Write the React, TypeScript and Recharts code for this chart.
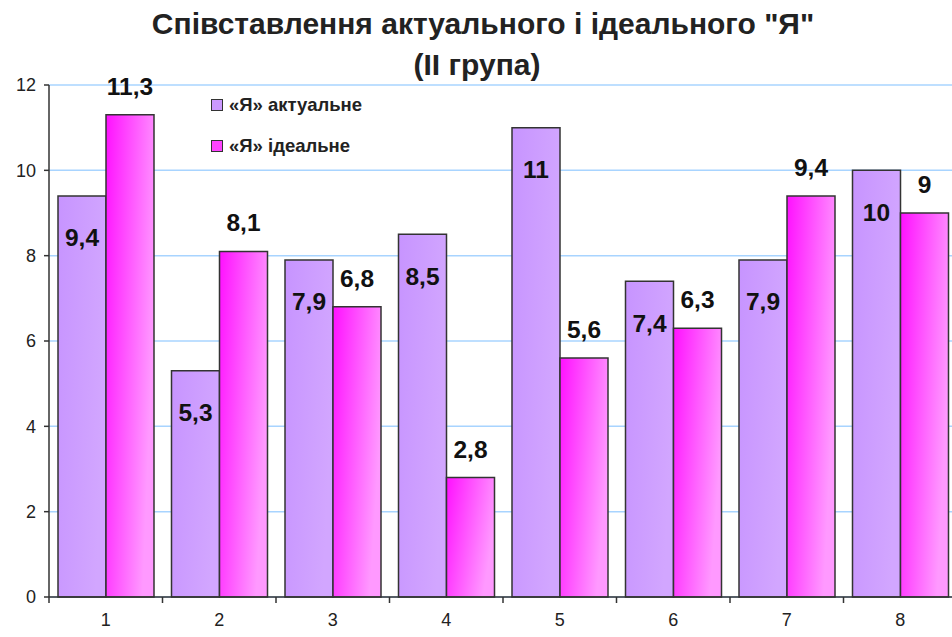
import { BarChart, Bar, XAxis, YAxis, CartesianGrid, LabelList } from 'recharts'

const groups = ['1', '2', '3', '4', '5', '6', '7', '8']
const actualSelf = [9.4, 5.3, 7.9, 8.5, 11, 7.4, 7.9, 10]
const idealSelf = [11.3, 8.1, 6.8, 2.8, 5.6, 6.3, 9.4, 9]
const yTicks = [0, 2, 4, 6, 8, 10, 12]

const seriesNames = { actual: '«Я» актуальне', ideal: '«Я» ідеальне' }

const data = groups.map((g, i) => ({
  group:  g,
  actual: actualSelf[i],
  ideal:  idealSelf[i],
}))

const FONT = '"Liberation Sans", Arial, sans-serif'
const CHART_W = 965
const CHART_H = 637
const MARGIN = { top: 85, right: 8, left: 0, bottom: 0 }
const Y_W = 49
const PLOT_W = CHART_W - MARGIN.left - MARGIN.right - Y_W
const BAND = PLOT_W / groups.length

const fmt = (v: any) => String(v).replace('.', ',')

function CategoryTick({ x, y, payload }: any) {
  const left = x - BAND / 2
  return (
    <g>
      <line x1={left} x2={left} y1={y} y2={y + 6} stroke="#333" strokeWidth={1.5} />
      <text x={x} y={y + 29} textAnchor="middle" fill="#222" fontSize={18} fontFamily={FONT}>
        {payload.value}
      </text>
    </g>
  )
}

function LegendBox() {
  const items = [
    { name: seriesNames.actual, fill: '#cc99ff' },
    { name: seriesNames.ideal,  fill: '#ff44ff' },
  ]
  return (
    <div
      style={{
        position: 'absolute', left: 211, top: 84,
        fontFamily: FONT, fontWeight: 'bold', fontSize: 18.5, color: '#222',
      }}
    >
      {items.map(it => (
        <div key={it.name} style={{ display: 'flex', alignItems: 'center', height: 41 }}>
          <span
            style={{
              display: 'inline-block', width: 10, height: 10, marginRight: 6,
              background: it.fill, border: '1.5px solid #333',
            }}
          />
          {it.name}
        </div>
      ))}
    </div>
  )
}

export default function App() {
  return (
    <div style={{ position: 'absolute', left: 0, top: 0, width: 952, height: 637, overflow: 'hidden', background: '#fff' }}>
      <div
        style={{
          position: 'absolute', left: 0, top: 3, width: 966, textAlign: 'center',
          fontFamily: FONT, fontWeight: 'bold', fontSize: 30, lineHeight: '41px', color: '#222',
        }}
      >
        <div>Співставлення актуального і ідеального "Я"</div>
        <div style={{ marginLeft: -12 }}>(ІІ група)</div>
      </div>
      <div style={{ position: 'absolute', left: 0, top: 0 }}>
        <BarChart width={CHART_W} height={CHART_H} data={data} margin={MARGIN} barCategoryGap={9} barGap={0}>
          <defs>
            <linearGradient id="gActual" x1="0" y1="0" x2="1" y2="0.3">
              <stop offset="0%" stopColor="#c794ff" />
              <stop offset="100%" stopColor="#d2a6ff" />
            </linearGradient>
            <linearGradient id="gIdeal" x1="0" y1="0" x2="1" y2="0.4">
              <stop offset="0%" stopColor="#ff10ff" />
              <stop offset="100%" stopColor="#ff99ff" />
            </linearGradient>
          </defs>
          <CartesianGrid vertical={false} stroke="#a8d4ff" strokeWidth={1.5} />
          <XAxis
            dataKey="group"
            height={40}
            tickLine={false}
            tickSize={0}
            tickMargin={0}
            axisLine={{ stroke: '#333', strokeWidth: 1.5 }}
            tick={<CategoryTick />}
            interval={0}
          />
          <YAxis
            width={Y_W}
            domain={[0, 12]}
            ticks={yTicks}
            interval={0}
            tickSize={5}
            tickMargin={8}
            axisLine={{ stroke: '#333', strokeWidth: 1.5 }}
            tickLine={{ stroke: '#333', strokeWidth: 1.5 }}
            tick={{ fill: '#222', fontSize: 18, fontFamily: FONT }}
          />
          <Bar dataKey="actual" name={seriesNames.actual} fill="url(#gActual)" stroke="#333" strokeWidth={1.5} isAnimationActive={false}>
            <LabelList
              dataKey="actual"
              position="insideTop"
              offset={33}
              formatter={fmt}
              style={{ fill: '#111', fontSize: 24.5, fontWeight: 'bold', fontFamily: FONT }}
            />
          </Bar>
          <Bar dataKey="ideal" name={seriesNames.ideal} fill="url(#gIdeal)" stroke="#333" strokeWidth={1.5} isAnimationActive={false}>
            <LabelList
              dataKey="ideal"
              position="top"
              offset={20}
              formatter={fmt}
              style={{ fill: '#111', fontSize: 24.5, fontWeight: 'bold', fontFamily: FONT }}
            />
          </Bar>
        </BarChart>
      </div>
      <LegendBox />
    </div>
  )
}
